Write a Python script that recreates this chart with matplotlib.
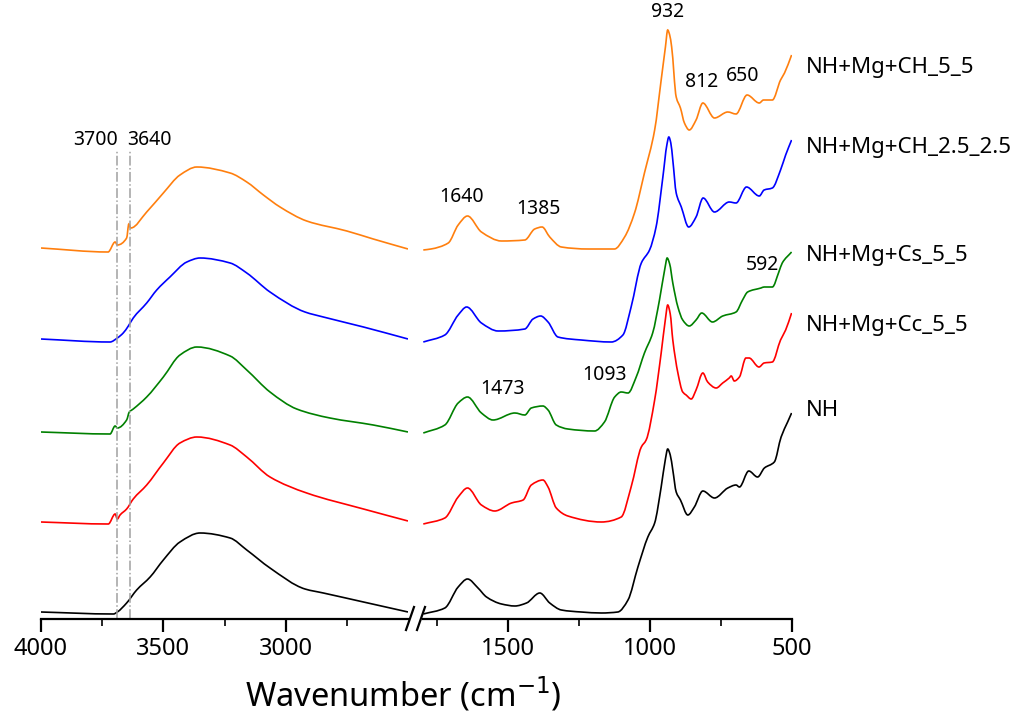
import matplotlib
matplotlib.use("Agg")
import numpy as np
import matplotlib.pyplot as plt
from matplotlib.lines import Line2D
from matplotlib.path import Path
from matplotlib.patches import PathPatch

plt.rcParams['font.family'] = ['Noto Sans', 'DejaVu Sans']

# ---- data (absorbance, offset a.u.) ----
# left part 4000-2500 cm-1
nh_l_wn = [4000, 3704, 3688, 3650, 3609, 3554, 3500, 3432, 3350, 3227, 3159, 3064, 2921, 2846, 2682, 2500]
nh_l_a = [0.07, 0.05, 0.07, 0.16, 0.29, 0.42, 0.59, 0.77, 0.86, 0.81, 0.69, 0.51, 0.30, 0.26, 0.17, 0.07]

cc_l_wn = [4000, 3725, 3697, 3688, 3677, 3650, 3623, 3568, 3500, 3432, 3363, 3227, 3159, 3064, 2914, 2682, 2500]
cc_l_a = [0.97, 0.95, 1.05, 1.00, 1.04, 1.10, 1.20, 1.34, 1.56, 1.76, 1.82, 1.74, 1.62, 1.42, 1.26, 1.10, 0.98]

cs_l_wn = [4000, 3718, 3697, 3688, 3650, 3639, 3623, 3568, 3500, 3432, 3363, 3227, 3159, 3064, 2955, 2819, 2642, 2500]
cs_l_a = [1.87, 1.85, 1.93, 1.91, 1.99, 2.07, 2.10, 2.22, 2.42, 2.64, 2.72, 2.63, 2.49, 2.27, 2.10, 2.01, 1.94, 1.87]

ch25_l_wn = [4000, 3718, 3688, 3664, 3643, 3623, 3568, 3527, 3473, 3404, 3350, 3227, 3159, 3064, 2921, 2846, 2682, 2500]
ch25_l_a = [2.80, 2.77, 2.81, 2.86, 2.93, 3.01, 3.16, 3.29, 3.42, 3.57, 3.61, 3.56, 3.46, 3.27, 3.07, 3.02, 2.92, 2.80]

ch55_l_wn = [4000, 3726, 3697, 3688, 3650, 3641, 3633, 3568, 3500, 3432, 3363, 3227, 3159, 3091, 3023, 2914, 2750, 2642, 2500]
ch55_l_a = [3.71, 3.67, 3.77, 3.74, 3.81, 3.95, 3.91, 4.07, 4.26, 4.44, 4.52, 4.46, 4.37, 4.24, 4.12, 3.98, 3.88, 3.80, 3.70]

# right part 1800-500 cm-1
nh_r_wn = [1799, 1723, 1676, 1643, 1606, 1576, 1523, 1476, 1435, 1388, 1353, 1312, 1242, 1171, 1113, 1077,
           1042, 1007, 983, 960, 945, 937, 928, 919, 907, 892, 866, 843, 813, 772, 725, 696, 684, 651, 620,
           596, 561, 537, 514, 500]
nh_r_a = [0.05, 0.11, 0.32, 0.40, 0.31, 0.22, 0.15, 0.13, 0.16, 0.26, 0.16, 0.09, 0.07, 0.06, 0.07, 0.19,
          0.52, 0.82, 0.96, 1.32, 1.60, 1.70, 1.64, 1.49, 1.27, 1.19, 1.04, 1.12, 1.28, 1.21, 1.31, 1.34, 1.32,
          1.48, 1.42, 1.51, 1.57, 1.82, 1.97, 2.06]

cc_r_wn = [1799, 1723, 1676, 1643, 1594, 1547, 1488, 1447, 1418, 1377, 1359, 1330, 1289, 1171, 1101, 1066,
           1030, 1013, 983, 960, 945, 937, 928, 919, 901, 884, 872, 854, 837, 813, 796, 766, 743, 720, 713,
           702, 684, 661, 650, 615, 597, 568, 539, 521, 500]
cc_r_a = [0.95, 1.01, 1.22, 1.31, 1.14, 1.08, 1.16, 1.19, 1.34, 1.39, 1.32, 1.11, 1.03, 0.97, 1.02, 1.32,
          1.72, 1.79, 2.19, 2.66, 3.00, 3.14, 3.05, 2.79, 2.46, 2.27, 2.24, 2.20, 2.29, 2.46, 2.37, 2.31, 2.36,
          2.41, 2.43, 2.38, 2.42, 2.61, 2.61, 2.52, 2.56, 2.57, 2.79, 2.89, 3.06]

cs_r_wn = [1799, 1723, 1676, 1643, 1594, 1553, 1476, 1441, 1418, 1377, 1359, 1330, 1289, 1195, 1160, 1124,
           1101, 1077, 1048, 1019, 990, 966, 946, 939, 930, 919, 901, 884, 861, 837, 817, 779, 743, 696, 673,
           655, 608, 597, 568, 545, 533, 500]
cs_r_a = [1.86, 1.94, 2.16, 2.22, 2.06, 1.99, 2.06, 2.04, 2.11, 2.13, 2.09, 1.94, 1.90, 1.88, 1.97, 2.22,
          2.27, 2.26, 2.42, 2.66, 2.86, 3.19, 3.52, 3.61, 3.55, 3.36, 3.12, 2.99, 2.93, 2.99, 3.06, 2.97, 3.03,
          3.07, 3.19, 3.27, 3.31, 3.32, 3.32, 3.47, 3.56, 3.67]

ch25_r_wn = [1799, 1723, 1676, 1646, 1594, 1535, 1441, 1412, 1385, 1359, 1324, 1242, 1136, 1095, 1066, 1030,
             1001, 978, 954, 940, 933, 926, 919, 907, 889, 863, 837, 812, 772, 720, 696, 659, 614, 597, 568,
             539, 521, 500]
ch25_r_a = [2.77, 2.84, 3.04, 3.12, 2.96, 2.88, 2.90, 3.00, 3.03, 2.97, 2.82, 2.79, 2.77, 2.84, 3.12, 3.56,
            3.69, 3.92, 4.42, 4.74, 4.82, 4.76, 4.59, 4.26, 4.12, 3.92, 4.02, 4.21, 4.07, 4.17, 4.16, 4.32, 4.23,
            4.29, 4.31, 4.49, 4.64, 4.79]

ch55_r_wn = [1799, 1772, 1711, 1676, 1643, 1594, 1523, 1441, 1406, 1380, 1353, 1312, 1218, 1125, 1089, 1054,
             1019, 983, 960, 945, 937, 930, 923, 907, 892, 878, 861, 837, 813, 772, 725, 696, 657, 614, 599,
             568, 539, 525, 500]
ch55_r_a = [3.69, 3.70, 3.76, 3.94, 4.03, 3.87, 3.78, 3.79, 3.90, 3.92, 3.82, 3.72, 3.70, 3.70, 3.82, 4.06,
            4.46, 4.89, 5.39, 5.72, 5.89, 5.84, 5.72, 5.22, 5.11, 4.96, 4.89, 4.99, 5.16, 5.01, 5.07, 5.05, 5.24,
            5.16, 5.19, 5.19, 5.39, 5.46, 5.64]

names = ['NH', 'NH+Mg+Cc_5_5', 'NH+Mg+Cs_5_5', 'NH+Mg+CH_2.5_2.5', 'NH+Mg+CH_5_5']
colors = ['black', 'red', 'green', 'blue', '#ff7f0e']
name_y = [2.08, 2.94, 3.63, 4.71, 5.51]

left_x = [nh_l_wn, cc_l_wn, cs_l_wn, ch25_l_wn, ch55_l_wn]
left_y = [nh_l_a, cc_l_a, cs_l_a, ch25_l_a, ch55_l_a]
right_x = [nh_r_wn, cc_r_wn, cs_r_wn, ch25_r_wn, ch55_r_wn]
right_y = [nh_r_a, cc_r_a, cs_r_a, ch25_r_a, ch55_r_a]

marks_l = [3688, 3635]
marks_l_txt = ['3700', '3640']
marks_l_pos = [(3779, 4.79), (3558, 4.79)]
peaks_r_txt = ['932', '812', '650', '1640', '1385', '592', '1473', '1093']
peaks_r_pos = [(938, 6.07), (818, 5.37), (674, 5.43), (1663, 4.22), (1392, 4.10), (604, 3.54), (1519, 2.30), (1160, 2.44)]


def smooth_line(ax, xs, ys, color):
    # draw the read points as a monotone cubic (bezier) path, like the original smooth spectra
    x = np.asarray(xs, float)
    y = np.asarray(ys, float)
    h = np.diff(x)
    dl = np.diff(y) / h
    d = np.zeros_like(x)
    d[0], d[-1] = dl[0], dl[-1]
    for k in range(1, len(x) - 1):
        if dl[k - 1] * dl[k] > 0:
            w1 = 2 * h[k] + h[k - 1]
            w2 = h[k] + 2 * h[k - 1]
            d[k] = (w1 + w2) / (w1 / dl[k - 1] + w2 / dl[k])
    verts = [(x[0], y[0])]
    codes = [Path.MOVETO]
    for k in range(len(x) - 1):
        verts += [(x[k] + h[k] / 3, y[k] + d[k] * h[k] / 3),
                  (x[k + 1] - h[k] / 3, y[k + 1] - d[k + 1] * h[k] / 3),
                  (x[k + 1], y[k + 1])]
        codes += [Path.CURVE4] * 3
    ax.add_patch(PathPatch(Path(verts, codes), facecolor='none', edgecolor=color, linewidth=1.2))


W, H = 1016, 725
fig = plt.figure(figsize=(W / 100, H / 100), dpi=100)
ax1 = fig.add_axes([41 / W, 106 / H, 367 / W, 619 / H])
ax2 = fig.add_axes([423 / W, 106 / H, 368.6 / W, 619 / H])

for xs, ys, c in zip(left_x, left_y, colors):
    smooth_line(ax1, xs, ys, c)
for xs, ys, c in zip(right_x, right_y, colors):
    smooth_line(ax2, xs, ys, c)

for m in marks_l:
    ax1.plot([m, m], [0, 4.69], '-.', color='#a0a0a0', linewidth=1.1)
for t, (x, y) in zip(marks_l_txt, marks_l_pos):
    ax1.text(x, y, t, ha='center', va='center', fontsize=14)
for t, (x, y) in zip(peaks_r_txt, peaks_r_pos):
    ax2.text(x, y, t, ha='center', va='center', fontsize=14)
for n, y in zip(names, name_y):
    ax2.text(450, y, n, ha='left', va='center', fontsize=16, clip_on=False)

ax1.set_xlim(4000, 2500)
ax2.set_xlim(1800, 500)
for ax in (ax1, ax2):
    ax.set_ylim(0, 6.19)
    for s in ('top', 'left', 'right'):
        ax.spines[s].set_visible(False)
    ax.spines['bottom'].set_linewidth(1.6)
    ax.set_yticks([])
    ax.tick_params(axis='x', which='major', direction='out', length=9, width=1.6, labelsize=17, pad=4)
    ax.tick_params(axis='x', which='minor', direction='out', length=5, width=1.2)
ax1.set_xticks([4000, 3500, 3000])
ax1.set_xticks([3750, 3250, 2750], minor=True)
ax2.set_xticks([1500, 1000, 500])
ax2.set_xticks([1750, 1250, 750], minor=True)

# break marks
for bx in (410, 421):
    fig.add_artist(Line2D([(bx - 4) / W, (bx + 4) / W], [1 - 630 / H, 1 - 607 / H],
                          transform=fig.transFigure, color='black', linewidth=1.6))

fig.text(403 / W, 1 - 695 / H, 'Wavenumber (cm$^{-1}$)', ha='center', va='center', fontsize=23.5)

fig.savefig('out.png', dpi=100)
